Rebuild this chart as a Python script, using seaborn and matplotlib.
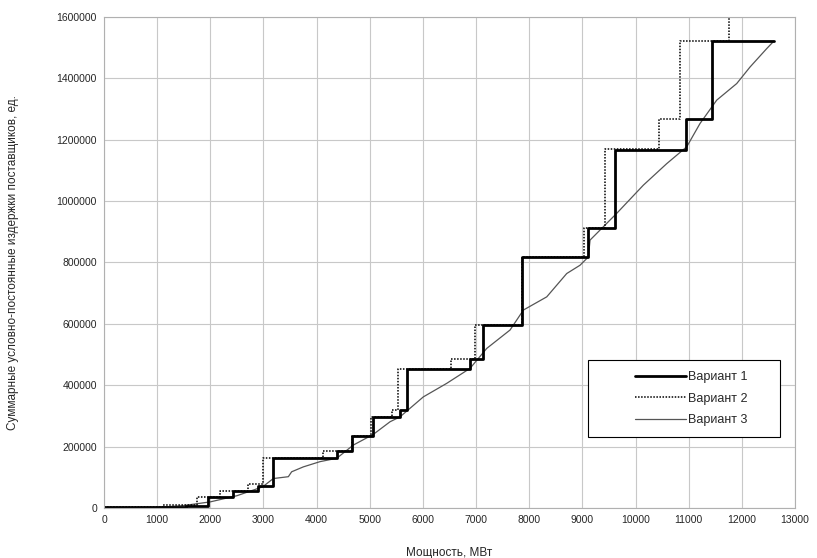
import pandas as pd
import matplotlib
matplotlib.use('Agg')
import matplotlib.pyplot as plt
from matplotlib.patches import Rectangle
import seaborn as sns

# Вариант 1 (ступенчатая, жирная)
v1_x = [0, 1550, 1960, 2430, 2900, 3185, 4380, 4660, 5067, 5569, 5700, 6886, 7133, 7870, 9112, 9614, 10944, 11433, 12600]
v1_y = [2000, 8000, 35000, 56000, 73000, 162000, 187000, 234000, 295000, 319000, 452000, 484000, 596000, 818000, 911000, 1168000, 1267000, 1521000, 1521000]

# Вариант 2 (ступенчатая, пунктир)
v2_x = [0, 1117, 1744, 2182, 2703, 2985, 4126, 4660, 5017, 5413, 5539, 6532, 6980, 7870, 9030, 9426, 10448, 10837, 11765]
v2_y = [2000, 9800, 35000, 56000, 77000, 162000, 187000, 234000, 295000, 319000, 452000, 484000, 596000, 818000, 911000, 1171000, 1268000, 1522000, 1800000]

# Вариант 3 (тонкая)
v3_x = [0, 1000, 1500, 2000, 2500, 2985, 3185, 3468, 3530, 3750, 4063, 4378, 4690, 5067, 5381, 5569, 6007, 6446,
        6886, 7200, 7639, 7890, 8329, 8705, 8955, 9112, 9144, 9645, 10147, 10586, 10963, 11213, 11527, 11903, 12154, 12468, 12600]
v3_y = [0, 2000, 8000, 20000, 40000, 69000, 96000, 102000, 118000, 134000, 151000, 162000, 205000, 240000, 281000, 297000, 362000, 406000,
        455000, 520000, 580000, 645000, 688000, 764000, 791000, 818000, 873000, 960000, 1052000, 1122000, 1177000, 1253000, 1329000, 1383000, 1437000, 1497000, 1521000]

x_ticks = list(range(0, 13001, 1000))
y_ticks = list(range(0, 1600001, 200000))

sns.set_style('white')
plt.rcParams['font.family'] = ['Liberation Sans', 'DejaVu Sans']

fig = plt.figure(figsize=(8.17, 5.58), dpi=100)
ax = fig.add_axes([0.1273, 0.0896, 0.8458, 0.88])

df1 = pd.DataFrame({'x': v1_x, 'y': v1_y})
df2 = pd.DataFrame({'x': v2_x, 'y': v2_y})
df3 = pd.DataFrame({'x': v3_x, 'y': v3_y})

sns.lineplot(data=df3, x='x', y='y', ax=ax, color='#555555', linewidth=0.9, label='Вариант 3')
sns.lineplot(data=df2, x='x', y='y', ax=ax, color='black', linewidth=1.1, linestyle=(0, (1, 1)),
             drawstyle='steps-post', label='Вариант 2')
sns.lineplot(data=df1, x='x', y='y', ax=ax, color='black', linewidth=2.0,
             drawstyle='steps-post', label='Вариант 1')

ax.set_xlim(0, 13000)
ax.set_ylim(0, 1600000)
ax.set_xticks(x_ticks)
ax.set_yticks(y_ticks)
ax.set_xticklabels([str(t) for t in x_ticks])
ax.set_yticklabels([str(t) for t in y_ticks])
ax.grid(True, color='#c8c8c8', linewidth=0.8)
ax.set_axisbelow(True)
for s in ax.spines.values():
    s.set_color('#b0b0b0')
    s.set_linewidth(0.8)
ax.tick_params(axis='both', labelsize=7.5, length=3, color='#b0b0b0', direction='out', pad=2)

ax.set_xlabel('Мощность, МВт', fontsize=8.5, labelpad=16)
ax.set_ylabel('Суммарные условно-постоянные издержки поставщиков, ед.', fontsize=8.5, labelpad=27)

# legend box drawn separately to match the wide frame
ax.add_patch(Rectangle((0.70, 0.1446), 0.278, 0.1564, transform=ax.transAxes,
                       facecolor='white', edgecolor='black', linewidth=0.8, zorder=5))
handles, labels = ax.get_legend_handles_labels()
order = [labels.index(l) for l in ['Вариант 1', 'Вариант 2', 'Вариант 3']]
leg = ax.legend([handles[i] for i in order], [labels[i] for i in order],
                loc='center right', bbox_to_anchor=(0.945, 0.2228), fontsize=9,
                handlelength=4.1, handletextpad=0.1, labelspacing=0.75, borderpad=0.3,
                frameon=False)
leg.set_zorder(6)

fig.savefig('out.png', dpi=100)
